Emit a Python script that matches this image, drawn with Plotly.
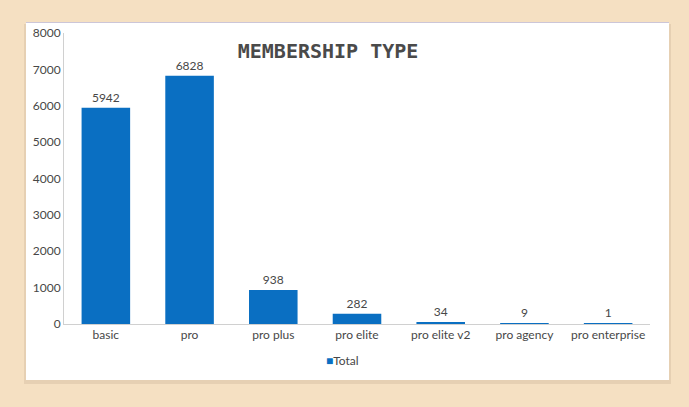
import plotly.graph_objects as go

categories = ["basic", "pro", "pro plus", "pro elite", "pro elite v2", "pro agency", "pro enterprise"]
totals = [5942, 6828, 938, 282, 34, 9, 1]
y_ticks = [0, 1000, 2000, 3000, 4000, 5000, 6000, 7000, 8000]

W, H = 689, 407
L, R, T, B = 64, 39, 33, 83
pw, ph = W - L - R, H - T - B

def px(x):
    return (x - L) / pw

def py(y):
    return (H - B - y) / ph

FONT = "Lato"
TXT = "#474747"

fig = go.Figure()
fig.add_trace(go.Bar(
    x=categories, y=totals, name="Total",
    marker=dict(color="#0a6fc2", line=dict(width=0)),
    text=[str(v) for v in totals], textposition="outside",
    textfont=dict(size=12, color=TXT, family=FONT),
    cliponaxis=False, showlegend=False,
))

shapes = [
    dict(type="rect", xref="paper", yref="paper", x0=px(24), x1=px(671), y0=py(384), y1=py(24),
         fillcolor="rgba(120,100,70,0.12)", line=dict(width=0), layer="below"),
    dict(type="rect", xref="paper", yref="paper", x0=px(26), x1=px(669), y0=py(380), y1=py(22),
         fillcolor="white", line=dict(width=0), layer="below"),
    dict(type="line", xref="paper", yref="paper", x0=px(26), x1=px(669), y0=py(22.5), y1=py(22.5),
         line=dict(color="rgba(170,160,190,0.6)", width=1), layer="below"),
]

annotations = [
    dict(text="<span style='color:#0a6fc2'>■</span>Total", xref="paper", yref="paper",
         x=px(342), y=py(360), xanchor="center", yanchor="middle", showarrow=False,
         font=dict(size=12, color=TXT, family=FONT)),
]

fig.update_layout(
    width=W, height=H,
    margin=dict(l=L, r=R, t=T, b=B),
    paper_bgcolor="#f5e0c2",
    plot_bgcolor="rgba(0,0,0,0)",
    shapes=shapes,
    annotations=annotations,
    bargap=0.42,
    showlegend=False,
    title=dict(text="<b>MEMBERSHIP TYPE</b>", x=px(343), xanchor="center", y=1 - 51 / H, yanchor="middle",
               font=dict(size=20, color="#4a4a4a", family="DejaVu Sans Mono")),
    xaxis=dict(showline=True, linecolor="#d0d0d0", linewidth=1, ticks="", showgrid=False,
               tickfont=dict(size=12, color=TXT, family=FONT)),
    yaxis=dict(range=[0, 8000], tickvals=y_ticks, showline=True, linecolor="#d0d0d0", linewidth=1,
               showgrid=False, zeroline=False, ticks="",
               tickfont=dict(size=12, color=TXT, family=FONT)),
    font=dict(family=FONT),
)

fig.write_html("out.html", config={"displayModeBar": False},
               post_script="document.body.style.margin='0';")
